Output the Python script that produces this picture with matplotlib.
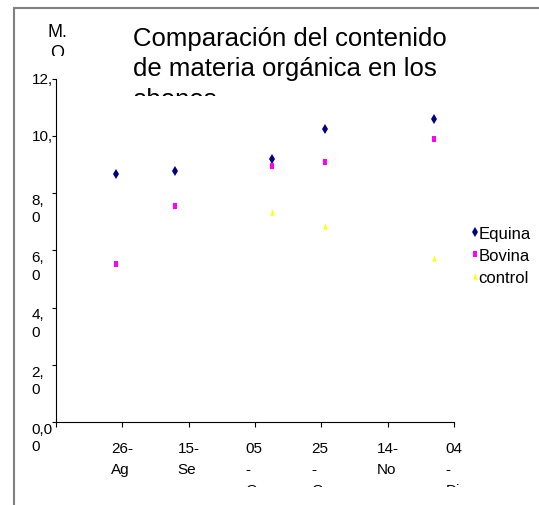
import datetime as dt
import matplotlib
matplotlib.use("Agg")
import matplotlib.pyplot as plt
from matplotlib.patches import Rectangle
from matplotlib.transforms import Bbox, TransformedBbox

plt.rcParams['font.family'] = ['Liberation Sans', 'DejaVu Sans']

# fechas de muestreo y contenido de M.O.
fechas = [dt.date(2007, 8, 24), dt.date(2007, 9, 11), dt.date(2007, 10, 10),
          dt.date(2007, 10, 26), dt.date(2007, 11, 28)]
equina = [8.67, 8.78, 9.20, 10.22, 10.57]
bovina = [5.51, 7.54, 8.94, 9.10, 9.87]
fechas_control = fechas[2:]
control = [7.33, 6.85, 5.74]

xticks = [dt.date(2007, 8, 6), dt.date(2007, 8, 26), dt.date(2007, 9, 15), dt.date(2007, 10, 5),
          dt.date(2007, 10, 25), dt.date(2007, 11, 14), dt.date(2007, 12, 4)]
xlabels = ['', '26-\nAg', '15-\nSe', '05\n-\nOc', '25\n-\nOc', '14-\nNo', '04\n-\nDi']
yticks = [0, 2, 4, 6, 8, 10, 12]
ylabels = ['0,0\n0', '2,\n0', '4,\n0', '6,\n0', '8,\n0', '10,', '12,']

W, H = 539, 506
fig = plt.figure(figsize=(W / 100, H / 100), dpi=100)
ax = fig.add_axes([56 / W, 1 - 423 / H, (454 - 56) / W, (423 - 79.5) / H])

# marco del area del grafico (recortado a la derecha y abajo)
fig.add_artist(Rectangle((14 / W, -0.1), 1.2, 1.1 - 8.5 / H, transform=fig.transFigure,
                         fill=False, edgecolor='#808080', linewidth=1.5))

rect = [(-0.33, -0.5), (0.33, -0.5), (0.33, 0.5), (-0.33, 0.5)]
tri = [(-0.33, -0.5), (0.33, -0.5), (0, 0.5)]
ax.plot(fechas, equina, linestyle='none', marker='d', ms=5.5, mew=0, color='#000080', label='Equina')
ax.plot(fechas, bovina, linestyle='none', marker=rect, ms=4.4, mew=0, color='#FF00FF', label='Bovina')
ax.plot(fechas_control, control, linestyle='none', marker=tri, ms=4.6, mew=0, color='#FFFF00', label='control')

ax.set_xlim(xticks[0], xticks[-1])
ax.set_ylim(0, 12)
for s in ['top', 'right']:
    ax.spines[s].set_visible(False)
for s in ['left', 'bottom']:
    ax.spines[s].set_linewidth(0.8)

ax.set_xticks(xticks)
ax.set_xticklabels(xlabels, fontsize=11, linespacing=1.65, multialignment='left')
ax.set_yticks(yticks)
ax.set_yticklabels(ylabels, fontsize=11, linespacing=1.3, ha='left', va='top',
                   multialignment='left')
for lab in ax.get_yticklabels()[-2:]:
    lab.set_va('center')
ax.tick_params(axis='x', length=3.5, width=0.8, pad=10)
ax.tick_params(axis='y', length=3, width=0.8, pad=14.5)

clip_x = TransformedBbox(Bbox.from_extents(0, 18 / H, 1, 1), fig.transFigure)
for lab in ax.get_xticklabels():
    lab.set_clip_box(clip_x)
    lab.set_clip_on(True)

titulo = fig.text(133 / W, 1 - 27 / H, 'Comparación del contenido\nde materia orgánica en los\nabonos',
                  fontsize=18.5, ha='left', va='top', linespacing=1.33)
titulo.set_clip_box(TransformedBbox(Bbox.from_extents(0, 1 - 97 / H, 1, 1), fig.transFigure))
titulo.set_clip_on(True)

ylab = fig.text(57 / W, 1 - 24 / H, 'M.\nO', fontsize=13, ha='center', va='top', linespacing=1.33)
ylab.set_clip_box(TransformedBbox(Bbox.from_extents(0, 1 - 57 / H, 1, 1), fig.transFigure))
ylab.set_clip_on(True)

fig.legend(loc='upper left', bbox_to_anchor=(472 / W, 1 - 227 / H), frameon=False, fontsize=12,
           borderpad=0, borderaxespad=0, handlelength=0.4, handletextpad=0, labelspacing=0.42)

fig.savefig('out.png', dpi=100)
